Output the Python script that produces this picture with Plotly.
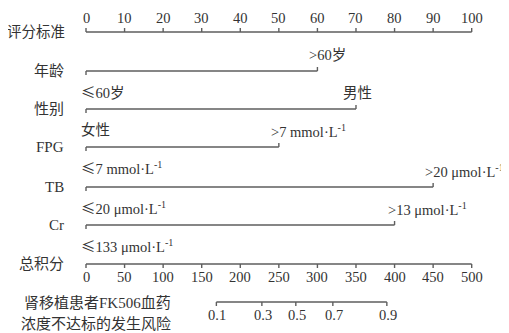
import plotly.graph_objects as go

# ---------------- data ----------------
points_ticks = [0, 10, 20, 30, 40, 50, 60, 70, 80, 90, 100]
var_names = ["年龄", "性别", "FPG", "TB", "Cr"]
var_points = [60, 70, 50, 90, 80]
LE = "<span style=\"font-family:'Noto Sans CJK SC'\">≤</span>"
low_labels = [LE + "60岁", "女性", LE + "7 mmol·L<sup>-1</sup>", LE + "20 μmol·L<sup>-1</sup>", LE + "133 μmol·L<sup>-1</sup>"]
high_labels = [">60岁", "男性", ">7 mmol·L<sup>-1</sup>", ">20 μmol·L<sup>-1</sup>", ">13 μmol·L<sup>-1</sup>"]
total_ticks = [0, 50, 100, 150, 200, 250, 300, 350, 400, 450, 500]
risk_labels = ["0.1", "0.3", "0.5", "0.7", "0.9"]
risk_total_points = [169, 228, 272, 320, 390]

# ---------------- layout geometry (screen pixels) ----------------
W, H = 509, 333
OFF = 8                          # page body margin
X0, X100 = 86.0, 471.7           # screen x of 0 and 100 points
S = (X100 - X0) / 100.0          # px per point
row_y = {"top": 32, "年龄": 71, "性别": 109, "FPG": 147, "TB": 187, "Cr": 225, "total": 264, "risk": 302}
TICK = 4
LINE_COLOR = "#5e5e5e"
TEXT_COLOR = "#333333"
NUM_FONT = dict(family="Liberation Serif, 'Noto Sans CJK SC', serif", size=14.5, color=TEXT_COLOR)
CJK_FONT = dict(family="Liberation Serif, 'Noto Sans CJK SC', serif", size=15, color=TEXT_COLOR)
HDR_FONT = dict(family="Liberation Serif, 'Noto Sans CJK SC', serif", size=14.5, color=TEXT_COLOR)

xs, ys = [], []
def seg(x1, y1, x2, y2):
    xs.extend([x1, x2, None]); ys.extend([y1, y2, None])

annotations = []
def text(x, y, t, anchor="center", font=NUM_FONT):
    annotations.append(dict(x=x, y=y, xref="x", yref="y", text=t, showarrow=False,
                            xanchor=anchor, yanchor="middle", font=font))

def row_label(screen_x, y, t, font=CJK_FONT):
    annotations.append(dict(x=(screen_x - OFF) / W, y=y, xref="paper", yref="y", text=t, showarrow=False,
                            xanchor="right", yanchor="middle", font=font))

# top points axis
y = row_y["top"]
seg(points_ticks[0], y, points_ticks[-1], y)
for t in points_ticks:
    seg(t, y, t, y - TICK)
    text(t, y - 14, str(t))
row_label(67, y, "评分标准", HDR_FONT)

# variable rows
hi_off_px = [-10, -15, -10, -10, -9]
for name, p, lo, hi, off in zip(var_names, var_points, low_labels, high_labels, hi_off_px):
    y = row_y[name]
    seg(0, y, p, y)
    seg(0, y, 0, y + TICK)
    seg(p, y, p, y - TICK)
    row_label(66, y, name)
    text((79 - X0) / S, y + 20, lo, anchor="left")
    text(p + off / S, y - 16, hi, anchor="left")

# total points axis
y = row_y["total"]
seg(total_ticks[0] / 5, y, total_ticks[-1] / 5, y)
for t in total_ticks:
    seg(t / 5, y, t / 5, y + TICK)
    text(t / 5, y + 13, str(t))
row_label(66, y, "总积分")

# risk axis
y = row_y["risk"]
seg(risk_total_points[0] / 5, y, risk_total_points[-1] / 5, y)
for lab, t in zip(risk_labels, risk_total_points):
    seg(t / 5, y, t / 5, y + TICK)
    text(t / 5 + 1 / S, y + 13, lab)
row_label(173, 303, "肾移植患者FK506血药")
row_label(173, 324, "浓度不达标的发生风险")

fig = go.Figure(go.Scatter(x=xs, y=ys, mode="lines", line=dict(color=LINE_COLOR, width=1.4),
                           hoverinfo="skip", showlegend=False))
fig.update_layout(
    width=W, height=H, margin=dict(l=0, r=0, t=0, b=0),
    paper_bgcolor="white", plot_bgcolor="white",
    xaxis=dict(range=[-(X0 - OFF) / S, (W - (X0 - OFF)) / S], visible=False, fixedrange=True),
    yaxis=dict(range=[H + OFF, OFF], visible=False, fixedrange=True),
    annotations=annotations,
)
fig.write_html("out.html")
